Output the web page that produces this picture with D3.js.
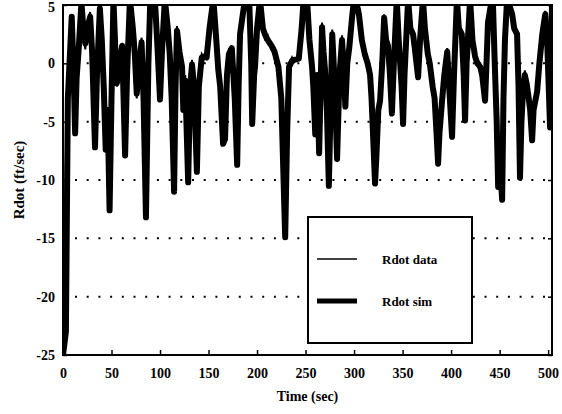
<!DOCTYPE html>
<html>
<head>
<meta charset="utf-8">
<script src="https://cdn.jsdelivr.net/npm/d3@7"></script>
<style>
  body { margin: 0; background: #fff; }
  svg { display: block; }
</style>
</head>
<body>
<script>
// time (sec) at the turning points
var times = [
  0, 3, 5, 7, 9, 11, 12.5, 14, 16, 19,
  21, 23, 25, 28, 30, 33, 35, 38, 40, 42,
  44, 46, 48, 50, 52, 54, 55.5, 58, 61, 64,
  66, 69, 72, 74, 76, 78, 81, 83, 85.5, 88,
  90, 93, 95, 97, 100, 102, 105, 108, 110, 112,
  114.5, 116, 117.5, 120, 122.7, 124, 126, 129, 131, 133,
  135, 138, 140, 143, 146, 148, 151, 155, 158, 160,
  162, 165, 167, 169, 171, 174, 177, 179.5, 181, 182.5,
  185, 187.6, 192, 194, 195, 197, 198, 200, 203, 206,
  208, 211, 215, 218, 222, 225, 227, 229, 231, 233,
  236, 238, 243, 246, 248, 251.5, 254, 256.7, 258, 260,
  262, 264, 265.5, 267, 268.5, 270, 272, 274, 276, 277.5,
  279, 280.5, 282.5, 285, 287.6, 289, 291, 293, 295, 298,
  300, 303, 305, 308, 311, 314, 316.5, 318, 320, 321.6,
  323, 325, 326.8, 329, 331, 333, 335, 337, 339, 341,
  344, 346, 347.5, 349, 350.5, 352, 355.7, 358, 360.8, 363,
  366, 368, 371, 373, 376, 378, 381, 383, 385, 386.6,
  388, 390.7, 393, 396, 398, 401, 403, 406, 408, 411,
  413, 414.4, 416, 419.6, 422, 424.7, 427, 430, 432, 435,
  436.5, 438, 441, 443, 445, 447, 448.5, 450, 452.6, 454,
  455.5, 457.7, 460, 463, 465, 468, 469.5, 471, 472.5, 474,
  476, 478, 480, 481.5, 483.5, 485, 488.7, 491, 494, 497,
  499, 502, 504
];

// Rdot sim (thick)
var rdotSim = [
  -25, -23, -3, 0.5, 4, -1, -6, -1.3, 1, 5.2,
  3, 1.7, 3, 4, 1, -7.2, -1, 4.7, 2, -2,
  -7.4, -4, -12.6, -3, 5.5, 1, -1.7, 0, 1.5, -7.9,
  -1, 5.5, 3, 0.8, -2.6, -0.5, 1.8, -3, -13.2, 0,
  5.5, 6, 5, 2, -3.1, 1, 5.5, 3, 0.8, -3,
  -11, -2, 2.8, 1, -0.3, -4, -1.5, -10.2, -2, -0.1,
  -2, -9.3, -2, 0.5, 0.6, 0.5, 3, 5.5, 2, -0.5,
  -2, -6.9, -6.5, -1, 0.8, 1.3, -3, -8.7, -2, 2.5,
  4, 5.5, 5.2, 0, -5.2, -1, -0.2, 3, 5.5, 3,
  2.5, 2, 1.5, 1, -0.3, -3, -9, -14.9, -6, -0.3,
  0.2, 0.3, 0.4, 3, 5.5, 5.5, 2, -0.3, -2, -6.1,
  -1, -7.7, -2, 3.1, 1, -0.5, -4, -10.5, -3, 2.5,
  0, -3, -8.2, -1, 2, 0, -3.7, 0, 1.3, 4,
  5.5, 5, 4.2, 2, 0.8, 0, -1, -3, -7, -10.3,
  -8, -4, -3.2, 0, 3.9, 2, 1.5, -1, -4.3, 0,
  5.5, 2, 0, -2, -5.2, -1, 5.5, 3, 2.5, 1,
  -1.2, 2, 5.5, 3, 0.8, 0, -2, -3, -6, -8.6,
  -6, -3.2, -1, 1, -2, -6.3, -1, 5.5, 3, 2.5,
  -1, -4.9, 0, 5.5, 2, 0.6, 0, -0.3, -1, -3.2,
  0, 3.5, 5, 5.5, 0, -5, -10.6, -8, -11.7, -3,
  2, 5.5, 5, 4.2, 3, 2.5, -2, -9.8, -5, -2.6,
  -1, -1.8, -3, -4, -6.6, -4, -2.4, 0, 2.5, 4.2,
  2, -5.5, 5
];

// Rdot data (thin)
var rdotData = [
  -25, -8, -1, 1, 3.5, -0.5, -5.5, -2, 1.5, 5.5,
  2.5, 1.2, 3.4, 4.4, 0.5, -6.8, -0.5, 5, 2.4, -2.5,
  -7, -4.5, -12, -2.5, 5.8, 1.5, -2, 0.4, 1.2, -7.5,
  -0.5, 5.8, 3.4, 0.4, -3, -0.2, 2.2, -2.5, -12.8, 0.5,
  5.8, 6, 4.6, 2.5, -2.8, 1.4, 5.8, 2.6, 1.2, -2.6,
  -10.6, -1.5, 3.2, 0.6, 0.2, -3.6, -1, -9.8, -1.6, 0.3,
  -2.4, -9, -1.6, 0.8, 0.4, 0.8, 3.4, 5.8, 1.6, -0.2,
  -2.4, -6.6, -6, -0.6, 1.2, 1, -2.6, -8.3, -1.6, 2.9,
  4.4, 5.8, 5.5, 0.4, -4.8, -1.3, 0.2, 3.4, 5.8, 3.4,
  2.1, 2.4, 1.2, 1.3, 0, -2.6, -8.6, -14.5, -5.5, 0,
  0.5, 0.1, 0.7, 3.4, 5.8, 5.8, 2.4, 0, -1.6, -5.7,
  -1.4, -7.3, -1.6, 3.5, 0.6, -0.1, -3.6, -10.1, -2.6, 2.9,
  0.4, -2.6, -7.8, -0.6, 2.4, 0.3, -3.3, 0.4, 1, 4.4,
  5.8, 4.7, 4.5, 1.7, 1.1, 0.3, -0.7, -2.6, -6.5, -9.9,
  -7.6, -3.6, -2.8, 0.4, 4.2, 1.7, 1.8, -0.6, -3.9, 0.4,
  5.8, 2.4, 0.3, -1.6, -4.8, -0.6, 5.8, 3.4, 2.2, 1.3,
  -0.8, 2.4, 5.8, 3.4, 0.5, 0.3, -1.6, -2.6, -5.6, -8.2,
  -5.6, -2.8, -0.6, 1.3, -1.6, -5.9, -0.6, 5.8, 3.4, 2.2,
  -0.6, -4.5, 0.4, 5.8, 2.4, 0.9, 0.3, 0, -0.7, -2.8,
  0.4, 3.9, 5.3, 5.8, 0.4, -4.6, -10.2, -7.6, -11.3, -2.6,
  2.4, 5.8, 4.7, 4.5, 2.7, 2.8, -1.6, -9.4, -4.6, -2.2,
  -0.6, -1.4, -2.6, -3.6, -6.2, -3.6, -2, 0.4, 2.9, 4.5,
  2.4, -5, 5.5
];

var xTicks = [0, 50, 100, 150, 200, 250, 300, 350, 400, 450, 500];
var yTicks = [5, 0, -5, -10, -15, -20, -25];
var gridValues = [0, -5, -10, -15, -20];
var legendLabels = ["Rdot data", "Rdot sim"];

var width = 562, height = 414;
var plotLeft = 63, plotRight = 552, plotTop = 5, plotBottom = 355;
var font = "'Liberation Serif', 'Times New Roman', serif";

var svg = d3.select("body").append("svg")
    .attr("width", width)
    .attr("height", height);

var x = d3.scaleLinear().domain([0, 504]).range([plotLeft, plotRight]);
var y = d3.scaleLinear().domain([-25, 5]).range([plotBottom, plotTop]);

svg.append("clipPath").attr("id", "plot")
  .append("rect")
    .attr("x", plotLeft).attr("y", plotTop)
    .attr("width", plotRight - plotLeft).attr("height", plotBottom - plotTop);

// dotted grid
svg.append("g").selectAll("line")
    .data(gridValues)
    .enter().append("line")
    .attr("x1", plotLeft + 12).attr("x2", plotRight)
    .attr("y1", function (d) { return y(d); })
    .attr("y2", function (d) { return y(d); })
    .attr("stroke", "#000")
    .attr("stroke-width", 2)
    .attr("stroke-dasharray", "2,9.7");

// lines
var pts = times.map(function (t, i) {
    return { t: t, sim: rdotSim[i], data: rdotData[i] };
});

var simLine = d3.line()
    .x(function (d) { return x(d.t); })
    .y(function (d) { return y(d.sim); });
var dataLine = d3.line()
    .x(function (d) { return x(d.t); })
    .y(function (d) { return y(d.data); });

var plot = svg.append("g").attr("clip-path", "url(#plot)");
plot.append("path")
    .attr("d", simLine(pts))
    .attr("fill", "none")
    .attr("stroke", "#000")
    .attr("stroke-width", 6)
    .attr("stroke-linejoin", "round");
plot.append("path")
    .attr("d", dataLine(pts))
    .attr("fill", "none")
    .attr("stroke", "#000")
    .attr("stroke-width", 2);

// axes
var fmt = function (d) { return String(d); };
var xAxis = d3.axisBottom(x)
    .tickValues(xTicks)
    .tickSize(-5)
    .tickPadding(10)
    .tickFormat(fmt);
var yAxis = d3.axisLeft(y)
    .tickValues(yTicks)
    .tickSize(-4)
    .tickPadding(8)
    .tickFormat(fmt);
var yAxisRight = d3.axisRight(y)
    .tickValues(yTicks)
    .tickSize(-4)
    .tickFormat("");

var gx = svg.append("g")
    .attr("transform", "translate(0," + plotBottom + ")")
    .call(xAxis);
var gy = svg.append("g")
    .attr("transform", "translate(" + plotLeft + ",0)")
    .call(yAxis);
var gr = svg.append("g")
    .attr("transform", "translate(" + plotRight + ",0)")
    .call(yAxisRight);

[gx, gy, gr].forEach(function (g) {
    g.select(".domain").remove();
    g.selectAll(".tick line").attr("stroke", "#000").attr("stroke-width", 1.5);
    g.selectAll("text")
        .attr("font-family", font)
        .attr("font-size", 14)
        .attr("font-weight", "bold")
        .attr("fill", "#000");
});
gx.selectAll("text").attr("dy", "0.9em");
gy.selectAll(".tick").filter(function (d) { return d === 5; })
    .select("text").attr("dy", "0.45em");

// frame
svg.append("rect")
    .attr("x", plotLeft).attr("y", plotTop)
    .attr("width", plotRight - plotLeft).attr("height", plotBottom - plotTop)
    .attr("fill", "none")
    .attr("stroke", "#000")
    .attr("stroke-width", 2);

// axis titles
svg.append("text")
    .attr("x", (plotLeft + plotRight) / 2)
    .attr("y", 401)
    .attr("text-anchor", "middle")
    .attr("font-family", font)
    .attr("font-size", 14)
    .attr("font-weight", "bold")
    .text("Time (sec)");

svg.append("text")
    .attr("transform", "translate(24,180) rotate(-90)")
    .attr("text-anchor", "middle")
    .attr("font-family", font)
    .attr("font-size", 15)
    .attr("font-weight", "bold")
    .text("Rdot (ft/sec)");

// legend
var legend = svg.append("g");
legend.append("rect")
    .attr("x", 308).attr("y", 217)
    .attr("width", 164).attr("height", 126)
    .attr("fill", "#fff")
    .attr("stroke", "#000")
    .attr("stroke-width", 2);

legend.selectAll("line.key")
    .data(legendLabels)
    .enter().append("line")
    .attr("class", "key")
    .attr("x1", 317).attr("x2", 357)
    .attr("y1", function (d, i) { return 259 + i * 42; })
    .attr("y2", function (d, i) { return 259 + i * 42; })
    .attr("stroke", "#000")
    .attr("stroke-width", function (d, i) { return i === 0 ? 1.5 : 5; });

legend.selectAll("text")
    .data(legendLabels)
    .enter().append("text")
    .attr("x", 382)
    .attr("y", function (d, i) { return 264 + i * 42; })
    .attr("font-family", font)
    .attr("font-size", 13)
    .attr("font-weight", "bold")
    .text(function (d) { return d; });
</script>
</body>
</html>
